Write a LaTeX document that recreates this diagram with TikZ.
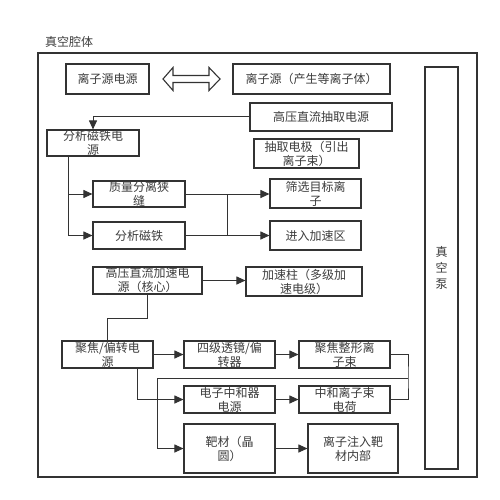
\documentclass[tikz,border=0pt]{standalone}
\usepackage{fontspec}
\setmainfont{Noto Sans CJK SC}
\usetikzlibrary{arrows.meta}
\definecolor{ink}{HTML}{333333}
\definecolor{txt}{HTML}{3C3C3C}
\begin{document}
\begin{tikzpicture}
  [x=1pt,y=-1pt,
   every node/.style={font=\fontsize{12}{14}\selectfont,text=txt,align=center,inner sep=0pt},
   blk/.style={draw=ink,line width=1.1pt,fill=white},
   box/.style 2 args={blk,minimum width=#1,minimum height=#2},
   wire/.style={draw=ink,line width=1pt},
   arr/.style={wire,-{Triangle[length=9pt,width=8pt]}}]

  \useasboundingbox (0,0) rectangle (500,500);
  \draw[draw=ink,line width=1.1pt] (38,53) rectangle (477,477);
  \node[anchor=west] (title) at (45,42) {真空腔体};

  \node[box={83pt}{30pt}] (srcp) at (107.5,79) {离子源电源};
  \node[box={157pt}{30pt}] (src) at (311.5,79) {离子源（产生等离子体）};
  \node[box={142pt}{28pt}] (extp) at (321,117) {高压直流抽取电源};
  \node[box={92pt}{26pt}] (magp) at (93,143) {分析磁铁电\\源};
  \node[box={105pt}{29pt}] (ext) at (306.5,153.5) {抽取电极（引出\\离子束）};
  \node[box={92pt}{26pt}] (slit) at (139,194) {质量分离狭\\缝};
  \node[box={92pt}{27pt}] (mag) at (139,235.5) {分析磁铁};
  \node[box={91pt}{29pt}] (sel) at (315.5,193.5) {筛选目标离\\子};
  \node[box={91pt}{29pt}] (accz) at (315.5,235.5) {进入加速区};
  \node[box={109pt}{27pt}] (accp) at (147.5,280.5) {高压直流加速电\\源（核心）};
  \node[box={116pt}{29pt}] (col) at (304,281.5) {加速柱（多级加\\速电级）};
  \node[box={91pt}{27pt}] (focp) at (107.5,354.5) {聚焦/偏转电\\源};
  \node[box={91pt}{27pt}] (quad) at (229.5,354.5) {四级透镜/偏\\转器};
  \node[box={91pt}{27pt}] (beam) at (344.5,354.5) {聚焦整形离\\子束};
  \node[box={91pt}{27pt}] (neup) at (229.5,399.5) {电子中和器\\电源};
  \node[box={91pt}{27pt}] (neu) at (344.5,399.5) {中和离子束\\电荷};
  \node[box={91pt}{49pt}] (target) at (229.5,448.5) {靶材（晶\\圆）};
  \node[box={90pt}{49pt}] (impl) at (353,448.5) {离子注入靶\\材内部};
  \node[box={33pt}{402pt},font=\fontsize{12}{16}\selectfont] (pump) at (441.5,268) {真\\空\\泵};

  \draw[blk] (163,79) -- (173,67.5) -- (173,75.5) -- (209,75.5) -- (209,67.5)
    -- (220,79) -- (209,90.5) -- (209,82.5) -- (173,82.5) -- (173,90.5) -- cycle;

  \draw[arr] (extp.west) -| (magp.north);
  \draw[arr] ([xshift=-25pt]magp.south) |- (mag.west);
  \draw[arr] ([xshift=-25pt]magp.south |- slit.west) -- (slit.west);

  \foreach \from/\to in {slit/sel,mag/accz,accp/col,focp/quad,quad/beam,neup/neu,target/impl}
    \draw[arr] (\from.east) -- (\from.east -| \to.west);

  \coordinate (split) at (227.5,0);
  \draw[wire] (slit.east -| split) -- (mag.east -| split);
  \draw[wire] (accp.south) -- ++(0,24) -| (focp.north);
  \draw[arr] ([xshift=29.5pt]focp.south) |- (neup.west);

  \coordinate (merge) at (408,378);
  \coordinate (drop) at (157,378);
  \draw[wire] (beam.east) -| (merge) |- (neu.east);
  \draw[arr] (merge) -- (drop) |- (target.west);
\end{tikzpicture}
\end{document}
